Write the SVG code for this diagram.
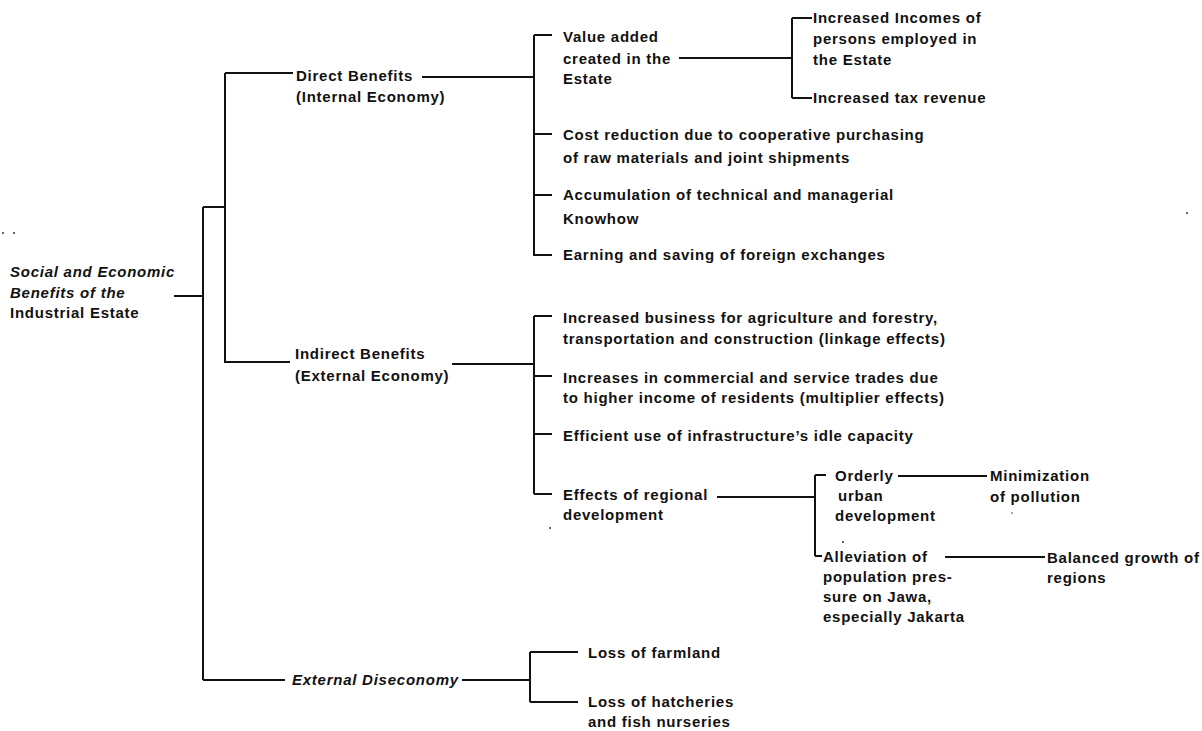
<svg xmlns="http://www.w3.org/2000/svg" width="1202" height="731" viewBox="0 0 1202 731">
  <style>
    text { font-family: "Liberation Sans", Arial, sans-serif; font-size: 15px; font-weight: bold; fill: #111; letter-spacing: 0.75px; }
    .it { font-style: italic; }
    .link { fill: none; stroke: #111; stroke-width: 2; }
    .speck { fill: #333; }
  </style>
  <rect width="1202" height="731" fill="#fff"/>

  <!-- connectors -->
  <g id="connectors" class="link">
    <!-- root trunk -->
    <path d="M174 296 H203 M203 207 V680 M203 207 H225 M225 73 V363 M225 73 H293 M225 362 H290 M203 680 H285"/>
    <!-- direct benefits -->
    <path d="M422 77 H535 M534 35 V256 M534 35 H552 M534 134 H552 M534 195 H552 M534 255 H552"/>
    <!-- value added -->
    <path d="M679 58 H792 M792 18 V98 M792 18 H812 M792 98 H812"/>
    <!-- indirect benefits -->
    <path d="M452 364 H534 M534 316 V494 M534 316 H552 M534 376 H552 M534 434 H552 M534 494 H552"/>
    <!-- regional development -->
    <path d="M717 497 H815 M815 475 V556 M815 475 H826 M815 556 H822"/>
    <path d="M898 476 H987"/>
    <path d="M945 557 H1045"/>
    <!-- external diseconomy -->
    <path d="M462 680 H530 M530 652 V702 M530 652 H578 M530 702 H578"/>
  </g>

  <!-- nodes -->
  <g id="root">
    <text x="10" y="277" class="it">Social and Economic</text>
    <text x="10" y="298" class="it">Benefits of the</text>
    <text x="10" y="318">Industrial Estate</text>
  </g>
  <g id="direct">
    <text x="296" y="81">Direct Benefits</text>
    <text x="296" y="102">(Internal Economy)</text>
  </g>
  <g id="value-added">
    <text x="563" y="42">Value added</text>
    <text x="563" y="64">created in the</text>
    <text x="563" y="84">Estate</text>
  </g>
  <g id="incomes">
    <text x="813" y="23">Increased Incomes of</text>
    <text x="813" y="44">persons employed in</text>
    <text x="813" y="65">the Estate</text>
  </g>
  <g id="tax">
    <text x="813" y="103">Increased tax revenue</text>
  </g>
  <g id="cost">
    <text x="563" y="140">Cost reduction due to cooperative purchasing</text>
    <text x="563" y="163">of raw materials and joint shipments</text>
  </g>
  <g id="knowhow">
    <text x="563" y="200">Accumulation of technical and managerial</text>
    <text x="563" y="224">Knowhow</text>
  </g>
  <g id="foreign">
    <text x="563" y="260">Earning and saving of foreign exchanges</text>
  </g>
  <g id="indirect">
    <text x="295" y="359">Indirect Benefits</text>
    <text x="295" y="381">(External Economy)</text>
  </g>
  <g id="linkage">
    <text x="563" y="323">Increased business for agriculture and forestry,</text>
    <text x="563" y="344">transportation and  construction (linkage effects)</text>
  </g>
  <g id="multiplier">
    <text x="563" y="383">Increases in commercial and service trades due</text>
    <text x="563" y="403">to higher income of residents (multiplier effects)</text>
  </g>
  <g id="infrastructure">
    <text x="563" y="441">Efficient use of infrastructure’s idle capacity</text>
  </g>
  <g id="regional">
    <text x="563" y="500">Effects of regional</text>
    <text x="563" y="520">development</text>
  </g>
  <g id="urban">
    <text x="835" y="481">Orderly</text>
    <text x="838" y="501">urban</text>
    <text x="835" y="521">development</text>
  </g>
  <g id="pollution">
    <text x="990" y="481">Minimization</text>
    <text x="990" y="502">of pollution</text>
  </g>
  <g id="alleviation">
    <text x="823" y="562">Alleviation of</text>
    <text x="823" y="582">population pres-</text>
    <text x="823" y="602">sure on Jawa,</text>
    <text x="823" y="622">especially Jakarta</text>
  </g>
  <g id="balanced">
    <text x="1047" y="563">Balanced growth of</text>
    <text x="1047" y="583">regions</text>
  </g>
  <g id="diseconomy">
    <text x="292" y="685" class="it">External Diseconomy</text>
  </g>
  <g id="farmland">
    <text x="588" y="658">Loss of farmland</text>
  </g>
  <g id="hatcheries">
    <text x="588" y="707">Loss of hatcheries</text>
    <text x="588" y="727">and fish nurseries</text>
  </g>

  <!-- stray print specks -->
  <g id="specks" class="speck">
    <circle cx="3" cy="233" r="1"/>
    <circle cx="14" cy="233" r="1"/>
    <circle cx="550" cy="528" r="1"/>
    <circle cx="843" cy="542" r="1"/>
    <circle cx="1012" cy="513" r="0.8"/>
    <circle cx="1187" cy="213" r="1"/>
  </g>
</svg>
